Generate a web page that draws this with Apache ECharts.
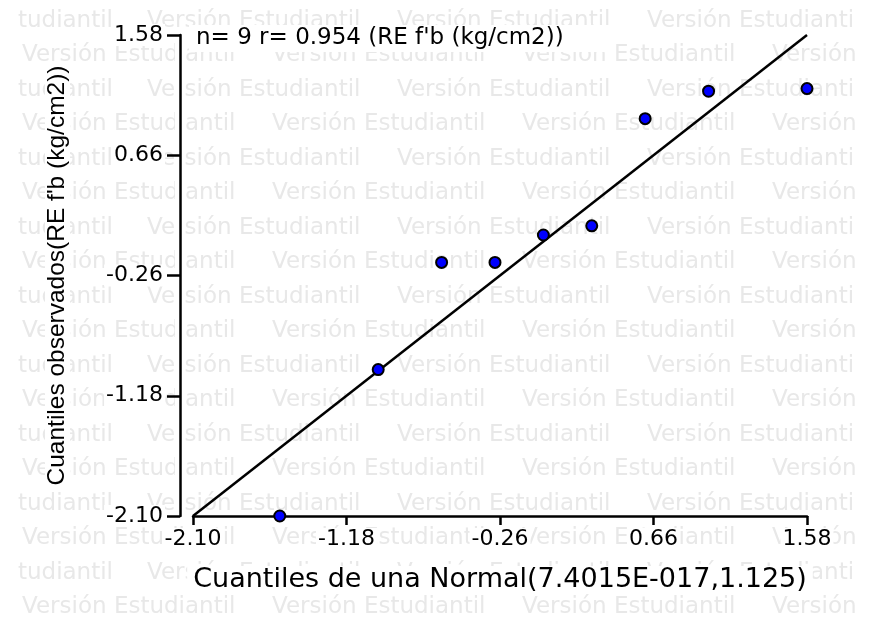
<!DOCTYPE html>
<html>
<head>
<meta charset="utf-8">
<script src="https://cdn.jsdelivr.net/npm/echarts@6/dist/echarts.min.js"></script>
<style>
  html, body { margin: 0; padding: 0; background: #fff; }
  #chart { width: 869px; height: 619px; }
</style>
</head>
<body>
<div id="chart"></div>
<script>
// cuantiles teoricos (normal) y observados
var normalQuantiles = [-1.58, -0.99, -0.61, -0.29, 0.00, 0.29, 0.61, 0.99, 1.58];
var observedQuantiles = [-2.10, -0.98, -0.16, -0.16, 0.05, 0.12, 0.94, 1.15, 1.17];
// recta de referencia y = x
var refLineX = [-2.10, 1.58];
var refLineY = [-2.10, 1.58];
// marcas de los ejes
var tickValues = [-2.10, -1.18, -0.26, 0.66, 1.58];

var chartTitle = "n= 9 r= 0.954 (RE f'b (kg/cm2))";
var xName = 'Cuantiles de una Normal(7.4015E-017,1.125)';
var yName = "Cuantiles observados(RE f'b (kg/cm2))";

var wide = '"DejaVu Sans", sans-serif';
var arial = '"Liberation Sans", Arial, sans-serif';

// marca de agua "Versión Estudiantil"
var watermark = [];
var wmFont = '23px "DejaVu Sans"';
for (var k = 0; k < 18; k++) {
    var wy = 21 + 34.5 * k;
    var start = k % 2 === 0 ? 147 : 22;
    if (k % 2 === 0) {
        watermark.push({
            type: 'text', x: 113, y: wy, z: -10, silent: true,
            style: { text: 'tudiantil', align: 'right', verticalAlign: 'middle', font: wmFont, fill: '#e8e8e8' }
        });
    }
    for (var wx = start; wx < 858; wx += 250) {
        watermark.push({
            type: 'text', x: wx, y: wy, z: -10, silent: true,
            style: {
                text: 'Versión Estudiantil', verticalAlign: 'middle', font: wmFont, fill: '#e8e8e8',
                width: 861 - wx, overflow: 'truncate', ellipsis: ''
            }
        });
    }
}
// franja blanca detras del eje Y
watermark.push({
    type: 'rect', z: -5, silent: true,
    shape: { x: 175, y: 30, width: 10, height: 490 },
    style: { fill: '#fff' }
});

var chart = echarts.init(document.getElementById('chart'));

var labelStyle = {
    fontFamily: wide,
    fontSize: 22,
    color: '#000',
    backgroundColor: '#fff',
    padding: [0, 2],
    formatter: function (v) { return Number(v).toFixed(2); }
};

chart.setOption({
    animation: false,
    backgroundColor: '#fff',
    title: {
        text: chartTitle,
        left: 189,
        top: 25,
        padding: [2, 48, 2, 7],
        backgroundColor: '#fff',
        textStyle: { fontFamily: wide, fontSize: 23, fontWeight: 'normal', color: '#000' }
    },
    graphic: { elements: watermark },
    grid: { left: 193, right: 62, top: 35, bottom: 103 },
    xAxis: {
        type: 'value',
        min: -2.10,
        max: 1.58,
        name: xName,
        nameLocation: 'middle',
        nameGap: 50,
        nameTextStyle: {
            fontFamily: wide, fontSize: 27, color: '#000',
            backgroundColor: '#fff', padding: [0, 6]
        },
        axisLine: { show: true, onZero: false, lineStyle: { color: '#000', width: 2.5 } },
        axisTick: { show: true, length: 9, lineStyle: { color: '#000', width: 2.5 }, customValues: tickValues },
        axisLabel: Object.assign({ margin: 12, customValues: tickValues }, labelStyle),
        splitLine: { show: false }
    },
    yAxis: {
        type: 'value',
        min: -2.10,
        max: 1.58,
        offset: 13,
        name: yName,
        nameLocation: 'middle',
        nameGap: 110,
        nameTextStyle: {
            fontFamily: arial, fontSize: 24.5, color: '#000',
            backgroundColor: '#fff', padding: [0, 4]
        },
        axisLine: { show: true, onZero: false, lineStyle: { color: '#000', width: 2.5 } },
        axisTick: { show: true, length: 13, lineStyle: { color: '#000', width: 2.5 }, customValues: tickValues },
        axisLabel: Object.assign({ margin: 15, customValues: tickValues }, labelStyle),
        splitLine: { show: false }
    },
    series: [
        {
            type: 'line',
            data: refLineX.map(function (x, i) { return [x, refLineY[i]]; }),
            showSymbol: false,
            symbol: 'none',
            lineStyle: { color: '#000', width: 2.5 },
            silent: true,
            z: 2
        },
        {
            type: 'scatter',
            data: normalQuantiles.map(function (x, i) { return [x, observedQuantiles[i]]; }),
            symbol: 'circle',
            symbolSize: 11,
            itemStyle: { color: '#0000ff', opacity: 1, borderColor: '#000', borderWidth: 2 },
            z: 3
        }
    ]
});
</script>
</body>
</html>
